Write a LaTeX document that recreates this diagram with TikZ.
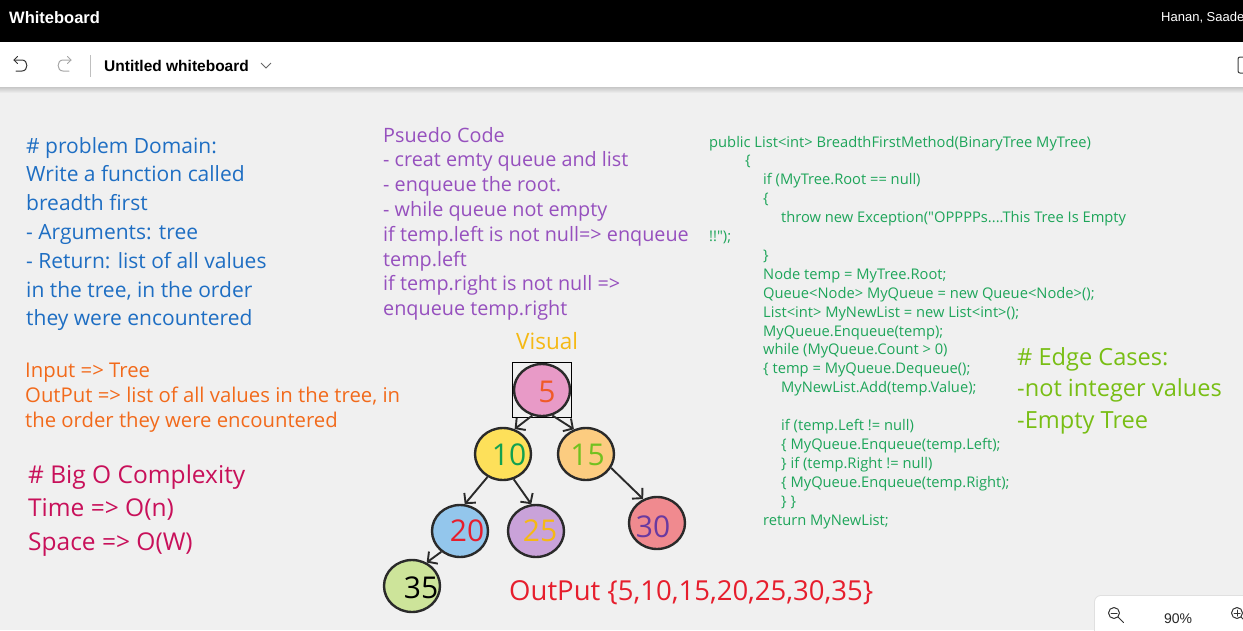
\documentclass[tikz,border=0pt]{standalone}
\usepackage{fontspec}
\setmainfont{Open Sans}
\newfontfamily\codefont{Open Sans}[Ligatures=TeXOff]
\newfontfamily\uifont{Liberation Sans}
\usetikzlibrary{arrows.meta,shapes.geometric,fit}
\definecolor{canvas}{RGB}{240,240,240}
\definecolor{pdblue}{RGB}{30,110,195}
\definecolor{ioorange}{RGB}{242,106,27}
\definecolor{bigo}{RGB}{200,16,90}
\definecolor{pseudo}{RGB}{150,80,190}
\definecolor{code}{RGB}{30,165,90}
\definecolor{edge}{RGB}{120,190,20}
\definecolor{visual}{RGB}{245,185,20}
\definecolor{outred}{RGB}{230,30,45}
\definecolor{inkline}{RGB}{42,42,42}
\definecolor{fpink}{RGB}{232,154,199}
\definecolor{fyellow}{RGB}{253,224,90}
\definecolor{forange}{RGB}{252,204,128}
\definecolor{fblue}{RGB}{147,198,236}
\definecolor{fviolet}{RGB}{201,162,217}
\definecolor{fred}{RGB}{240,138,143}
\definecolor{fgreen}{RGB}{205,228,154}
\definecolor{lgreen}{RGB}{18,161,80}
\definecolor{lgreen2}{RGB}{114,193,31}
\definecolor{lpurple}{RGB}{106,58,160}
\definecolor{lorange}{RGB}{240,90,40}
\tikzset{
  txt/.style={anchor=base west, inner sep=0pt, align=left},
  tnode/.style={ellipse, draw=inkline, line width=2.4pt, minimum width=56pt, minimum height=52pt, inner sep=0pt},
  tlabel/.style={font=\fontsize{30}{30}\selectfont},
  tarrow/.style={draw=inkline, line width=1.9pt, -{Straight Barb[length=7pt,width=15pt]}},
  uiline/.style={draw=black!80, line width=1pt, line cap=round, line join=round}
}
\begin{document}
\begin{tikzpicture}[x=1pt,y=-1pt]
\useasboundingbox (0,0) rectangle (1243,630);
\begin{scope}
\clip (0,0) rectangle (1243,630);
% background and chrome
\fill[canvas] (0,0) rectangle (1243,630);
\fill[black] (0,0) rectangle (1243,42);
\fill[white] (0,42) rectangle (1243,87);
\shade[top color=black!22, bottom color=canvas] (0,87) rectangle (1243,93);
\node[txt, text=white, font=\uifont\bfseries\fontsize{16.5}{18}\selectfont] (title) at (9,23) {Whiteboard};
\node[txt, text=white, font=\uifont\fontsize{13}{15}\selectfont] (user) at (1161,21) {Hanan, Saade};
% undo / redo
\draw[uiline] (14,60) -- (22,60) .. controls (28.5,60) and (28.5,71) .. (22,71) -- (16,71);
\draw[uiline] (17.5,56.5) -- (14,60) -- (17.5,63.5);
\draw[uiline, draw=black!35] (71,60) -- (63,60) .. controls (56.5,60) and (56.5,71) .. (63,71) -- (69,71);
\draw[uiline, draw=black!35] (67.5,56.5) -- (71,60) -- (67.5,63.5);
\draw[black!25, line width=0.8pt] (90,55) -- (90,77);
\node[txt, text=black, font=\uifont\bfseries\fontsize{15.5}{17}\selectfont] (wbname) at (104,71) {Untitled whiteboard};
\draw[black!60, line width=0.8pt] (261,63) -- (266,68) -- (271,63);
\draw[black!75, line width=1pt, rounded corners=2pt] (1238,57) rectangle (1254,73);
% problem domain (anchor = baseline of last line)
\node[txt, text=pdblue, font=\fontsize{21}{28.8}\selectfont] (domain) at (26,325.8) {\# problem Domain:\\Write a function called\\breadth first\\- Arguments: tree\\- Return: list of all values\\in the tree, in the order\\they were encountered};
\node[txt, text=ioorange, font=\fontsize{20.3}{25}\selectfont] (io) at (25,427) {Input => Tree\\OutPut => list of all values in the tree, in\\the order they were encountered};
\node[txt, text=bigo, font=\fontsize{24.5}{33.7}\selectfont] (bigo) at (28,550.4) {\# Big O Complexity\\Time => O(n)\\Space => O(W)};
% pseudo code
\node[txt, text=pseudo, font=\fontsize{19.8}{24.8}\selectfont] (pseudo) at (383,315.6) {Psuedo Code\\- creat emty queue and list\\- enqueue the root.\\- while queue not empty\\if temp.left is not null=> enqueue\\temp.left\\if temp.right is not null =>\\enqueue temp.right};
% code
\node[txt, text=code, font=\codefont\fontsize{14.7}{18.9}\selectfont] (codeblock) at (709,525) {public List<int> BreadthFirstMethod(BinaryTree MyTree)\\
\hspace*{36pt}\{\\
\hspace*{54pt}if (MyTree.Root == null)\\
\hspace*{54pt}\{\\
\hspace*{72pt}throw new Exception("OPPPPs....This Tree Is Empty\\
!!");\\
\hspace*{54pt}\}\\
\hspace*{54pt}Node temp = MyTree.Root;\\
\hspace*{54pt}Queue<Node> MyQueue = new Queue<Node>();\\
\hspace*{54pt}List<int> MyNewList = new List<int>();\\
\hspace*{54pt}MyQueue.Enqueue(temp);\\
\hspace*{54pt}while (MyQueue.Count > 0)\\
\hspace*{54pt}\{ temp = MyQueue.Dequeue();\\
\hspace*{72pt}MyNewList.Add(temp.Value);\\
\mbox{}\\
\hspace*{72pt}if (temp.Left != null)\\
\hspace*{72pt}\{ MyQueue.Enqueue(temp.Left);\\
\hspace*{72pt}\} if (temp.Right != null)\\
\hspace*{72pt}\{ MyQueue.Enqueue(temp.Right);\\
\hspace*{72pt}\} \}\\
\hspace*{54pt}return MyNewList;};
% edge cases
\node[txt, text=edge, font=\fontsize{23.6}{31.5}\selectfont] (edges) at (1017,428) {\# Edge Cases:\\-not integer values\\-Empty Tree};
% visual
\node[txt, text=visual, font=\fontsize{22.5}{24}\selectfont] (visual) at (516,349) {Visual};
% tree
\node[tnode, fill=fpink, label={[tlabel, text=lorange, xshift=5pt, yshift=-2pt]center:5}] (n5) at (542,390) {};
\node[draw=black, line width=0.7pt, inner sep=0pt, fit=(n5)] (sel) {};
\node[tnode, fill=fyellow, label={[tlabel, text=lgreen, xshift=6pt, yshift=-1pt]center:10}] (n10) at (503,454) {};
\node[tnode, fill=forange, label={[tlabel, text=lgreen2, xshift=1.5pt, yshift=-1pt]center:15}] (n15) at (586,454) {};
\node[tnode, fill=fblue, label={[tlabel, text=outred, xshift=7pt]center:20}] (n20) at (460,531) {};
\node[tnode, fill=fviolet, label={[tlabel, text=visual, xshift=4pt]center:25}] (n25) at (536,531) {};
\node[tnode, fill=fred, label={[tlabel, text=lpurple, xshift=-4pt, yshift=-4pt]center:30}] (n30) at (657,523) {};
\node[tnode, fill=fgreen, label={[tlabel, text=black, xshift=9pt, yshift=-2pt]center:35}] (n35) at (412,586) {};
\draw[tarrow] (n5.249) -- (n10.65);
\draw[tarrow] (n5.292) -- (n15.116);
\draw[tarrow] (n10.236) -- (n20.80);
\draw[tarrow] (n10.293) -- (n25.100);
\draw[tarrow] (n15.331) -- (n30.120);
\draw[tarrow] (n20.228) -- (n35.58);
% output
\node[txt, text=outred, font=\fontsize{27.5}{30}\selectfont] (output) at (509,600) {OutPut \{5,10,15,20,25,30,35\}};
% zoom control
\fill[black!12, rounded corners=7pt] (1094,595) rectangle (1275,660);
\fill[white, rounded corners=6pt] (1095,596) rectangle (1275,660);
\draw[uiline] (1114,613) circle[radius=5.5];
\draw[uiline] (1118,617) -- (1123.5,622.5);
\draw[uiline] (1111,613) -- (1117,613);
\node[anchor=base, inner sep=0pt, font=\uifont\fontsize{14}{16}\selectfont, text=black!85] (zoomval) at (1178,623) {90\%};
\draw[uiline] (1237,613) circle[radius=5.5];
\draw[uiline] (1241,617) -- (1246.5,622.5);
\draw[uiline] (1234,613) -- (1240,613);
\draw[uiline] (1237,610) -- (1237,616);
\end{scope}
\end{tikzpicture}
\end{document}
